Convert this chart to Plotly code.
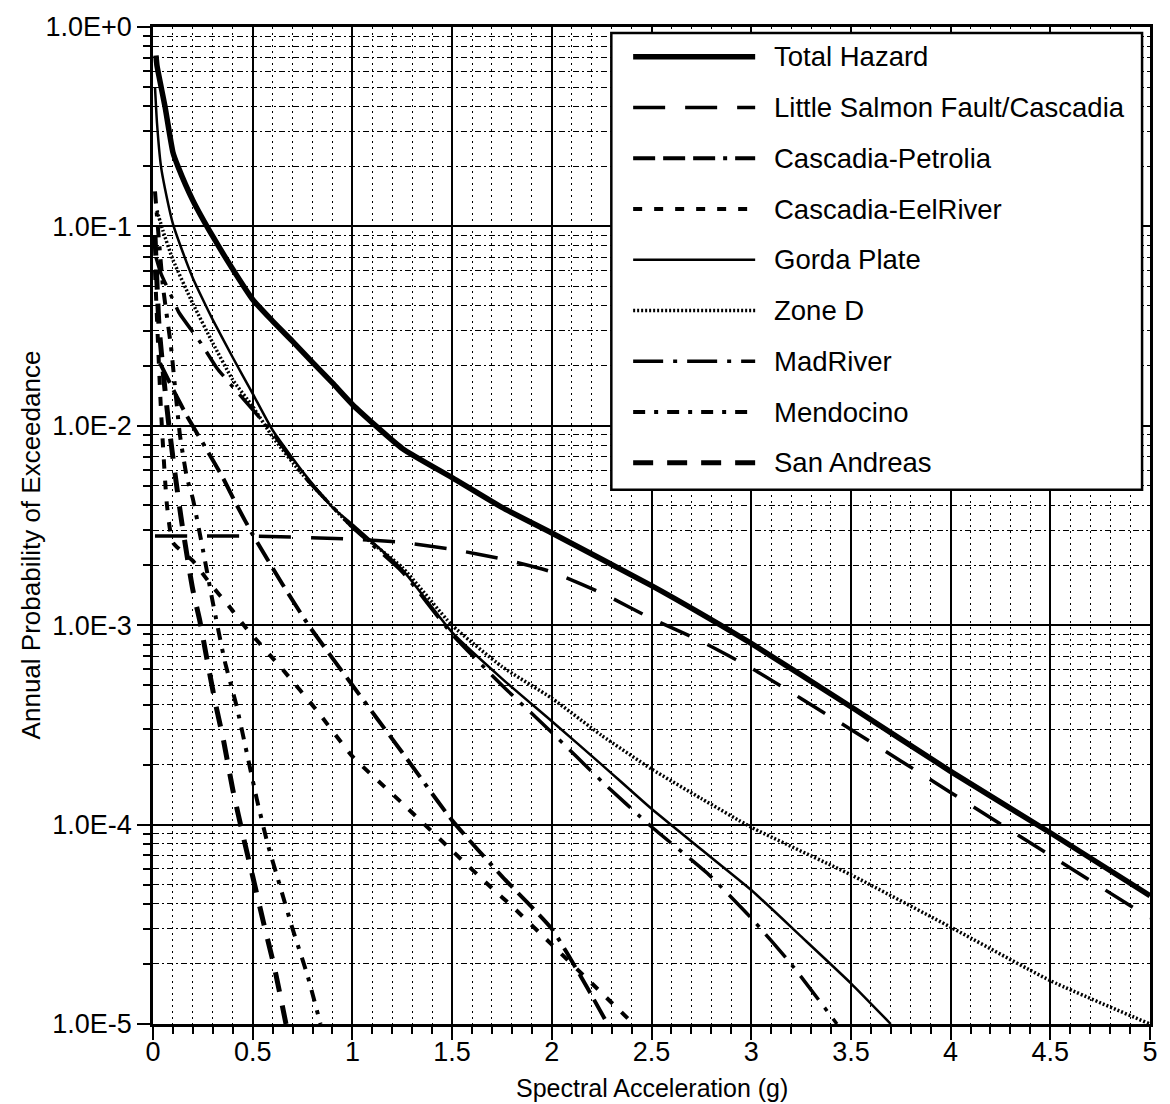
import plotly.graph_objects as go

# ---------------- data ----------------
total_x = [0.015, 0.02, 0.06, 0.1, 0.125, 0.2, 0.3, 0.4, 0.5, 0.6, 0.7, 0.8, 0.9, 1.0, 1.25, 1.5, 1.75, 2.0,
           2.5, 2.75, 3.0, 3.5, 4.0, 4.5, 5.0]
total_y = [0.72, 0.64, 0.40, 0.235, 0.20, 0.135, 0.089, 0.061, 0.043, 0.0335, 0.0265, 0.0208, 0.0164, 0.0128,
           0.0077, 0.0055, 0.0039, 0.0029, 0.00158, 0.00114, 0.00081, 0.00039, 0.000185, 0.000091, 0.000044]

lsf_x = [0.01, 0.5, 1.0, 1.25, 1.5, 1.75, 2.0, 2.25, 2.5, 2.75, 3.0, 3.5, 4.0, 4.5, 5.0]
lsf_y = [0.0028, 0.0028, 0.0027, 0.0026, 0.0024, 0.00215, 0.00185, 0.00145, 0.00108, 0.00083, 0.00061,
         0.0003, 0.000145, 0.00007, 0.000034]

petrolia_x = [0.035, 0.11, 0.17, 0.25, 0.35, 0.42, 0.5, 0.65, 0.78, 1.0, 1.25, 1.5, 1.75, 2.0, 2.15, 2.28]
petrolia_y = [0.0206, 0.0146, 0.0112, 0.0082, 0.0055, 0.0040, 0.00285, 0.0016, 0.001, 0.0005, 0.00023,
              0.000105, 0.000055, 0.00003, 0.000017, 0.00001]

eel_x = [0.01, 0.04, 0.07, 0.1, 0.2, 0.29, 0.38, 0.47, 0.65, 0.825, 1.0, 1.25, 1.5, 1.7, 1.8, 2.0, 2.2, 2.41]
eel_y = [0.06, 0.012, 0.004, 0.0026, 0.0021, 0.0016, 0.00125, 0.00096, 0.0006, 0.00037, 0.00022, 0.000128,
         0.000074, 0.000048, 0.000039, 0.000025, 0.000016, 0.00001]

gorda_x = [0.01, 0.02, 0.04, 0.06, 0.1, 0.15, 0.2, 0.25, 0.3, 0.4, 0.5, 0.6, 0.75, 0.9, 1.0, 1.25, 1.5, 1.75,
           2.0, 2.25, 2.5, 2.75, 3.0, 3.25, 3.5, 3.7]
gorda_y = [0.5, 0.33, 0.2, 0.155, 0.103, 0.074, 0.055, 0.043, 0.034, 0.022, 0.0145, 0.0095, 0.0059, 0.0039,
           0.0032, 0.0019, 0.00092, 0.00054, 0.00033, 0.0002, 0.00012, 0.000075, 0.000047, 0.0000275,
           0.000016, 0.00001]

zoned_x = [0.02, 0.05, 0.1, 0.2, 0.3, 0.4, 0.5, 0.6, 0.75, 1.0, 1.25, 1.5, 1.75, 2.0, 2.25, 2.5, 2.75, 3.0,
           3.5, 4.0, 4.5, 5.0]
zoned_y = [0.12, 0.095, 0.068, 0.041, 0.026, 0.017, 0.0125, 0.0088, 0.0057, 0.0031, 0.00195, 0.001, 0.00062,
           0.00043, 0.00028, 0.00019, 0.000135, 0.000097, 0.000056, 0.0000306, 0.0000165, 0.00001]

mad_x = [0.015, 0.04, 0.1, 0.13, 0.24, 0.32, 0.43, 0.6, 0.75, 1.0, 1.25, 1.5, 1.75, 2.0, 2.25, 2.5, 2.78,
         3.0, 3.2, 3.43]
mad_y = [0.07, 0.058, 0.043, 0.037, 0.026, 0.0195, 0.0145, 0.0092, 0.0057, 0.0031, 0.00185, 0.0009, 0.0005,
         0.00029, 0.000165, 0.0000975, 0.000057, 0.000034, 0.00002, 0.00001]

mendo_x = [0.01, 0.05, 0.09, 0.135, 0.17, 0.2, 0.25, 0.3, 0.36, 0.42, 0.47, 0.52, 0.575, 0.64, 0.7, 0.775, 0.84]
mendo_y = [0.15, 0.05, 0.025, 0.009, 0.0055, 0.0043, 0.0024, 0.0013, 0.00066, 0.00039, 0.00023, 0.000135,
           0.00008, 0.000048, 0.00003, 0.0000175, 0.00001]

sanand_x = [0.01, 0.03, 0.055, 0.08, 0.11, 0.14, 0.175, 0.2, 0.235, 0.27, 0.31, 0.355, 0.4, 0.455, 0.5,
            0.555, 0.61, 0.667]
sanand_y = [0.09, 0.032, 0.017, 0.01, 0.0058, 0.0035, 0.0021, 0.0015, 0.00105, 0.00068, 0.00042, 0.00026,
            0.00015, 0.000085, 0.000055, 0.000032, 0.000019, 0.00001]

series_names = ["Total Hazard", "Little Salmon Fault/Cascadia", "Cascadia-Petrolia", "Cascadia-EelRiver",
                "Gorda Plate", "Zone D", "MadRiver", "Mendocino", "San Andreas"]

ytick_vals = [1e-5, 1e-4, 1e-3, 1e-2, 1e-1, 1e0]
ytick_text = ["1.0E-5", "1.0E-4", "1.0E-3", "1.0E-2", "1.0E-1", "1.0E+0"]

x_title = "Spectral Acceleration (g)"
y_title = "Annual Probability of Exceedance"

# ---------------- styles ----------------
styles = {
    "Total Hazard": dict(width=5.5, dash="solid"),
    "Little Salmon Fault/Cascadia": dict(width=3.5, dash="32px,20px"),
    "Cascadia-Petrolia": dict(width=4, dash="22px,8px,22px,8px,22px,8px,4px,8px"),
    "Cascadia-EelRiver": dict(width=4, dash="9px,12px"),
    "Gorda Plate": dict(width=2.5, dash="solid"),
    "Zone D": dict(width=3.5, dash="2px,2px"),
    "MadRiver": dict(width=3.5, dash="30px,10px,4px,10px"),
    "Mendocino": dict(width=4, dash="12px,9px,4px,9px"),
    "San Andreas": dict(width=5, dash="20px,14px"),
}

data = {
    "Total Hazard": (total_x, total_y),
    "Little Salmon Fault/Cascadia": (lsf_x, lsf_y),
    "Cascadia-Petrolia": (petrolia_x, petrolia_y),
    "Cascadia-EelRiver": (eel_x, eel_y),
    "Gorda Plate": (gorda_x, gorda_y),
    "Zone D": (zoned_x, zoned_y),
    "MadRiver": (mad_x, mad_y),
    "Mendocino": (mendo_x, mendo_y),
    "San Andreas": (sanand_x, sanand_y),
}

FONT = "Liberation Sans, Arial, Helvetica, sans-serif"

fig = go.Figure()
for name in series_names:
    xs, ys = data[name]
    st = styles[name]
    fig.add_trace(go.Scatter(
        x=xs, y=ys, mode="lines", name=name, showlegend=False,
        line=dict(color="black", width=st["width"], dash=st["dash"], shape="spline", smoothing=0.5),
        hoverinfo="skip"))

minor_y = [m * 10.0 ** e for e in range(-5, 0) for m in range(2, 10)]

fig.update_xaxes(
    range=[0, 5], tick0=0, dtick=0.5, showgrid=True, gridcolor="black", gridwidth=1.6,
    showline=True, linecolor="black", linewidth=2.5, mirror=True, zeroline=False,
    ticks="outside", ticklen=13, tickwidth=2, tickcolor="black", ticklabelstandoff=-11,
    tickfont=dict(family=FONT, size=27, color="black"),
    minor=dict(tick0=0, dtick=0.1, showgrid=True, gridcolor="black", gridwidth=1, griddash="2px,4px",
               ticks="outside", ticklen=7, tickwidth=1.5, tickcolor="black"))

fig.update_yaxes(
    type="log", range=[-5, 0], tickmode="array", tickvals=ytick_vals, ticktext=ytick_text,
    showgrid=True, gridcolor="black", gridwidth=1.6,
    showline=True, linecolor="black", linewidth=2.5, mirror=True, zeroline=False,
    ticks="outside", ticklen=13, tickwidth=2, tickcolor="black",
    tickfont=dict(family=FONT, size=27, color="black"),
    minor=dict(tickmode="array", tickvals=minor_y, showgrid=True, gridcolor="black", gridwidth=1,
               griddash="6px,3px,2px,3px", ticks="outside", ticklen=7, tickwidth=1.5, tickcolor="black"))

# ---------------- custom legend (long line samples) ----------------
L, R, T, B = 153, 1158, 22, 1024


def px_x(p):
    return (p - L) / (R - L)


def px_y(p):
    return (B - p) / (B - T)


shapes = [dict(type="rect", xref="paper", yref="paper", layer="above",
               x0=px_x(615), x1=px_x(1150), y0=px_y(487), y1=px_y(28),
               fillcolor="white", line=dict(color="black", width=2.5))]
annotations = []
row0, row_step = 52, 51
for i, name in enumerate(series_names):
    yy = px_y(row0 + i * row_step)
    st = styles[name]
    shapes.append(dict(type="line", xref="paper", yref="paper", layer="above",
                       x0=px_x(637), x1=px_x(760), y0=yy, y1=yy,
                       line=dict(color="black", width=st["width"], dash=st["dash"])))
    annotations.append(dict(xref="paper", yref="paper", x=px_x(777), y=yy, xanchor="left", yanchor="middle",
                            text=name, showarrow=False, font=dict(family=FONT, size=27.5, color="black")))

annotations.append(dict(xref="paper", yref="paper", x=0.5, y=px_y(1088), xanchor="center", yanchor="middle",
                        text=x_title, showarrow=False, font=dict(family=FONT, size=25, color="black")))
annotations.append(dict(xref="paper", yref="paper", x=px_x(30), y=px_y(542), xanchor="center",
                        yanchor="middle", textangle=-90, text=y_title, showarrow=False,
                        font=dict(family=FONT, size=26, color="black")))

fig.update_layout(
    width=1170, height=1104, autosize=False,
    margin=dict(l=L, r=1170 - R, t=T, b=1104 - B, pad=0),
    plot_bgcolor="white", paper_bgcolor="white",
    font=dict(family=FONT, color="black"),
    shapes=shapes, annotations=annotations, showlegend=False)

fig.write_html("out.html")
